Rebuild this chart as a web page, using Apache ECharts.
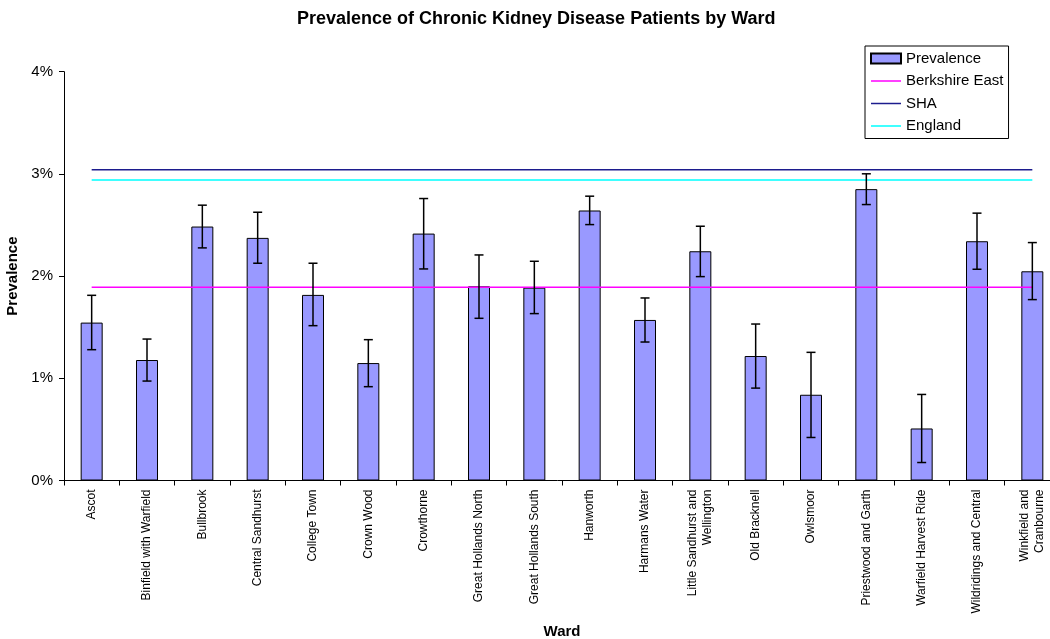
<!DOCTYPE html>
<html>
<head>
<meta charset="utf-8">
<script src="https://cdn.jsdelivr.net/npm/echarts@6/dist/echarts.min.js"></script>
<style>
html,body{margin:0;padding:0;background:#fff;}
#chart{width:1050px;height:639px;}
</style>
</head>
<body>
<div id="chart"></div>
<script>
const wards = ["Ascot", "Binfield with Warfield", "Bullbrook", "Central Sandhurst", "College Town", "Crown Wood", "Crowthorne", "Great Hollands North", "Great Hollands South", "Hanworth", "Harmans Water", "Little Sandhurst and\nWellington", "Old Bracknell", "Owlsmoor", "Priestwood and Garth", "Warfield Harvest Ride", "Wildridings and Central", "Winkfield and\nCranbourne"];
const prevalence = [1.545, 1.179, 2.485, 2.374, 1.816, 1.149, 2.416, 1.900, 1.887, 2.642, 1.571, 2.243, 1.218, 0.839, 2.851, 0.509, 2.341, 2.047];
const lowerCI = [1.280, 0.973, 2.276, 2.126, 1.515, 0.918, 2.070, 1.587, 1.633, 2.504, 1.355, 1.995, 0.904, 0.421, 2.700, 0.176, 2.067, 1.770];
const upperCI = [1.812, 1.384, 2.694, 2.625, 2.126, 1.378, 2.759, 2.207, 2.145, 2.782, 1.786, 2.488, 1.531, 1.254, 3.001, 0.842, 2.616, 2.328];
const berkshireEast = 1.89;
const sha = 3.04;
const england = 2.94;
const yTicks = [0, 1, 2, 3, 4];

const FONT = "'Liberation Sans', Arial, sans-serif";
const LINE_ICON = 'path://M0,0L30,0L30,1.5L0,1.5Z';
const chart = echarts.init(document.getElementById('chart'), null, {renderer: 'canvas'});
const errData = wards.map((w, i) => [i, lowerCI[i], upperCI[i]]);
const flat = v => wards.map(() => v);

chart.setOption({
  animation: false,
  backgroundColor: '#fff',
  textStyle: {fontFamily: FONT, color: '#000'},
  title: {
    text: 'Prevalence of Chronic Kidney Disease Patients by Ward',
    left: 297, top: 10, padding: 0,
    textStyle: {fontFamily: FONT, fontSize: 18, fontWeight: 'bold', color: '#000', lineHeight: 18}
  },
  legend: {
    orient: 'vertical',
    left: 865, top: 46,
    padding: [5, 5, 5, 5],
    itemWidth: 30, itemHeight: 10, itemGap: 7.5,
    borderColor: '#000', borderWidth: 1,
    backgroundColor: '#fff',
    textStyle: {fontFamily: FONT, fontSize: 15, color: '#000', lineHeight: 15},
    data: [
      {name: 'Prevalence', icon: 'rect'},
      {name: 'Berkshire East', icon: LINE_ICON},
      {name: 'SHA', icon: LINE_ICON},
      {name: 'England', icon: LINE_ICON}
    ]
  },
  grid: {left: 64, right: -10, top: 71.7, bottom: 158.5, containLabel: false, outerBoundsMode: 'none'},
  xAxis: {
    type: 'category',
    data: wards,
    name: 'Ward', nameLocation: 'middle', nameGap: 144,
    nameTextStyle: {fontFamily: FONT, fontSize: 15, fontWeight: 'bold', color: '#000'},
    axisLine: {show: true, lineStyle: {color: '#000', width: 1}},
    axisTick: {show: true, length: 5, lineStyle: {color: '#000'}},
    axisLabel: {interval: 0, rotate: 90, margin: 9, fontFamily: FONT, fontSize: 12, color: '#000', lineHeight: 15},
    splitLine: {show: false}
  },
  yAxis: {
    type: 'value', min: yTicks[0], max: yTicks[yTicks.length - 1], interval: 1,
    name: 'Prevalence', nameLocation: 'middle', nameGap: 38, nameRotate: 90,
    nameTextStyle: {fontFamily: FONT, fontSize: 15, fontWeight: 'bold', color: '#000'},
    axisLine: {show: true, lineStyle: {color: '#000', width: 1}},
    axisTick: {show: true, length: 5, lineStyle: {color: '#000'}},
    axisLabel: {formatter: '{value}%', margin: 11, fontFamily: FONT, fontSize: 15, color: '#000'},
    splitLine: {show: false}
  },
  series: [
    {
      name: 'Prevalence', type: 'bar', data: prevalence, barWidth: 22,
      itemStyle: {color: '#9999FF', borderColor: '#000', borderWidth: 1}
    },
    {
      name: 'Berkshire East', type: 'line', data: flat(berkshireEast), symbol: 'none',
      lineStyle: {color: '#FF00FF', width: 1.5}, itemStyle: {color: '#FF00FF'}
    },
    {
      name: 'SHA', type: 'line', data: flat(sha), symbol: 'none',
      lineStyle: {color: '#1c1c8e', width: 1.5}, itemStyle: {color: '#1c1c8e'}
    },
    {
      name: 'England', type: 'line', data: flat(england), symbol: 'none',
      lineStyle: {color: '#00FFFF', width: 1.5}, itemStyle: {color: '#00FFFF'}
    },
    {
      name: 'CI', type: 'custom', data: errData, z: 5,
      renderItem: function (params, api) {
        const x = api.value(0);
        const lo = api.coord([x, api.value(1)]);
        const hi = api.coord([x, api.value(2)]);
        const hw = 4.5;
        const st = {stroke: '#000', lineWidth: 1.5};
        return {
          type: 'group',
          children: [
            {type: 'line', shape: {x1: hi[0], y1: hi[1], x2: lo[0], y2: lo[1]}, style: st},
            {type: 'line', shape: {x1: hi[0] - hw, y1: hi[1], x2: hi[0] + hw, y2: hi[1]}, style: st},
            {type: 'line', shape: {x1: lo[0] - hw, y1: lo[1], x2: lo[0] + hw, y2: lo[1]}, style: st}
          ]
        };
      }
    }
  ]
});
</script>
</body>
</html>
